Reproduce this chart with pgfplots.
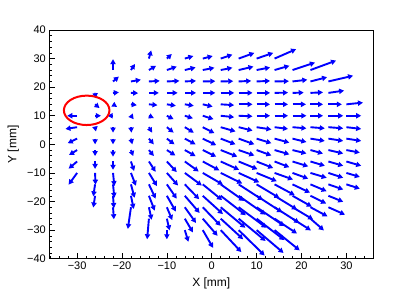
\documentclass[border=0pt]{standalone}
\usepackage{fontspec}
\setmainfont{Liberation Sans}
\usepackage{pgfplots}
\usepackage{pgfplotstable}
\pgfplotsset{compat=1.18}
\usetikzlibrary{arrows.meta}
\pgfplotstableread{
x y u v
-14 30 0.5 2.9
-10 30 1.1 1.6
-6 30 1.9 0.9
-2 30 2.2 0.9
2 30 2.6 1.4
6 30 3.5 2.0
10 30 3.7 2.0
14 30 4.8 3.3
-22 26 0 3.8
-18 26 0.9 2.1
-14 26 1.6 1.5
-10 26 2.2 1.2
-6 26 2.4 0.9
-2 26 2.6 0.8
2 26 2.6 0.8
6 26 3.3 1.2
10 26 3.0 0.9
14 26 3.3 1.5
18 26 5.0 2.6
22 26 5.7 3.3
-22 22 1.3 1.7
-18 22 2.2 0.6
-14 22 2.4 0.2
-10 22 2.8 0.2
-6 22 2.5 0.2
-2 22 2.8 0.1
2 22 2.8 0.1
6 22 2.8 0.2
10 22 3.0 0.2
14 22 3.2 0.1
18 22 3.3 0.6
22 22 3.7 1.5
26 22 5.5 2.0
-26 18 0.1 -1.9
-22 18 1.3 0.2
-18 18 1.6 -0.1
-14 18 2.2 0
-10 18 2.4 0
-6 18 2.5 0
-2 18 2.8 0
2 18 3.0 0
6 18 3.1 0
10 18 3.0 0
14 18 3.0 0.1
18 18 2.5 0.1
22 18 2.8 0.2
26 18 3.5 0.8
-26 14 1.0 -1.3
-22 14 0.9 -0.9
-18 14 1.3 -0.3
-14 14 1.9 -0.3
-10 14 2.0 -0.5
-6 14 2.0 -0.5
-2 14 2.2 -0.8
2 14 3.0 -0.3
6 14 3.1 0
10 14 3.0 0
14 14 3.0 0
18 14 3.0 0
22 14 2.8 0
26 14 3.0 0
30 14 3.7 0.6
-30 10 -2.2 0
-26 10 1.3 0
-22 10 -1.2 0
-18 10 0.6 -1.2
-14 10 1.1 -0.8
-10 10 1.5 -1.2
-6 10 1.8 -0.9
-2 10 2.4 -1.2
2 10 3.0 -0.5
6 10 3.1 -0.2
10 10 3.0 0
14 10 3.0 0
18 10 3.1 0
22 10 2.8 0
26 10 3.3 0
30 10 3.3 0
-30 6 -2.6 -0.6
-26 6 0.2 -1.5
-22 6 0 -1.9
-18 6 0.1 -1.9
-14 6 0.7 -1.9
-10 6 1.5 -1.9
-6 6 2.0 -1.9
-2 6 2.6 -2.1
2 6 3.3 -1.5
6 6 3.1 -1.2
10 6 3.3 -0.8
14 6 3.0 -0.6
18 6 3.1 -0.4
22 6 3.2 -0.4
26 6 3.3 -0.4
30 6 3.3 -0.6
-30 2 -2.1 -1.6
-26 2 0 -2.0
-22 2 0 -2.0
-18 2 0.3 -2.0
-14 2 1.1 -2.0
-10 2 1.7 -2.0
-6 2 2.4 -2.0
-2 2 3.0 -2.3
2 2 3.3 -2.0
6 2 3.5 -2.0
10 2 3.3 -1.6
14 2 3.3 -1.4
18 2 3.1 -1.2
22 2 3.2 -0.8
26 2 3.3 -0.8
30 2 3.3 -0.8
-30 -2 -1.8 -1.7
-26 -2 0 -2.1
-22 -2 0 -2.3
-18 -2 0.5 -2.1
-14 -2 1.1 -2.1
-10 -2 1.9 -1.9
-6 -2 2.4 -2.1
-2 -2 3.0 -2.3
2 -2 3.7 -2.3
6 -2 3.5 -1.9
10 -2 3.3 -1.9
14 -2 3.3 -1.5
18 -2 3.1 -1.2
22 -2 2.8 -1.2
26 -2 3.3 -1.2
30 -2 3.0 -0.9
-30 -6 -1.9 -2.5
-26 -6 0 -2.6
-22 -6 0 -2.9
-18 -6 0.7 -3.3
-14 -6 1.5 -3.6
-10 -6 2.2 -3.7
-6 -6 3.1 -3.5
-2 -6 3.7 -3.1
2 -6 4.1 -2.9
6 -6 4.2 -2.7
10 -6 3.7 -2.3
14 -6 3.3 -2.0
18 -6 3.5 -1.7
22 -6 3.2 -1.5
26 -6 3.3 -1.5
30 -6 3.3 -1.5
-30 -10 -1.9 -4.1
-26 -10 0.1 -4.1
-22 -10 0.3 -4.6
-18 -10 1.1 -4.5
-14 -10 1.8 -4.6
-10 -10 2.5 -4.4
-6 -10 3.8 -4.4
-2 -10 4.5 -4.1
2 -10 4.8 -3.7
6 -10 4.6 -3.3
10 -10 4.5 -2.9
14 -10 4.1 -2.3
18 -10 3.5 -2.0
22 -10 3.6 -1.7
26 -10 3.3 -1.7
30 -10 3.0 -1.4
-26 -14 -0.4 -4.2
-22 -14 0.3 -4.7
-18 -14 0.8 -4.7
-14 -14 1.5 -5.0
-10 -14 2.2 -5.0
-6 -14 3.2 -5.2
-2 -14 4.3 -5.5
2 -14 5.2 -5.8
6 -14 5.4 -5.5
10 -14 5.1 -4.8
14 -14 4.5 -3.8
18 -14 3.9 -2.9
22 -14 3.6 -2.4
26 -14 3.3 -1.8
30 -14 3.0 -1.5
-26 -18 -0.4 -4.1
-22 -18 0.2 -4.3
-18 -18 0.6 -4.6
-14 -18 1.3 -5.2
-10 -18 2.0 -5.5
-6 -18 3.3 -6.0
-2 -18 4.5 -6.4
2 -18 5.6 -6.8
6 -18 6.0 -6.6
10 -18 5.7 -5.8
14 -18 5.0 -4.8
18 -18 4.3 -3.8
22 -18 3.5 -2.7
26 -18 3.3 -2.1
-22 -22 0.2 -4.2
-18 -22 -0.7 -7.6
-14 -22 0.6 -4.4
-10 -22 1.2 -4.5
-6 -22 2.5 -5.5
-2 -22 4.0 -6.5
2 -22 5.5 -7.2
6 -22 6.2 -7.2
10 -22 6.2 -6.6
14 -22 5.5 -5.5
18 -22 4.6 -4.3
22 -22 3.8 -3.2
26 -22 3.7 -2.6
-14 -26 -0.4 -7.2
-10 -26 0.6 -4.1
-6 -26 1.8 -4.8
-2 -26 3.3 -6.0
2 -26 5.0 -7.2
6 -26 6.0 -7.8
10 -26 6.2 -7.5
14 -26 5.0 -5.2
18 -26 4.1 -4.1
22 -26 3.0 -4.1
-10 -30 0 -3.2
-6 -30 0.8 -4.1
-2 -30 2.3 -6.2
2 -30 4.6 -7.7
6 -30 5.8 -8.9
10 -30 6.0 -8.0
14 -30 5.6 -7.1
}\field
\begin{document}
\begin{tikzpicture}
\path[use as bounding box] (0,0) rectangle (407pt,294pt);
\begin{axis}[
  at={(49.3pt,35.3pt)}, anchor=south west,
  scale only axis, width=324pt, height=228.7pt,
  xmin=-36.2, xmax=36, ymin=-40, ymax=40,
  xtick={-30,-20,...,30}, xticklabels={−30,−20,−10,0,10,20,30},
  ytick={-40,-30,...,40}, yticklabels={−40,−30,−20,−10,0,10,20,30,40},
  minor xtick={-36,-34,...,36}, minor ytick={-40,-38,...,40},
  tick align=inside, xtick pos=left, ytick pos=left,
  major tick length=5.5pt, minor tick length=2.8pt,
  tick style={black, line width=0.6pt},
  axis line style={line width=0.6pt},
  ticklabel style={font=\fontsize{11}{13}\selectfont},
  xlabel={X [mm]}, ylabel={Y [mm]},
  label style={font=\fontsize{12}{14}\selectfont},
  xlabel style={at={(axis description cs:0.5,-0.1076)}, anchor=center},
  ylabel style={at={(axis description cs:-0.111,0.5)}, anchor=center},
]
\addplot[blue, line width=1.9pt, -{Triangle[length=5pt,width=5.2pt]},
  quiver={u=\thisrow{u}, v=\thisrow{v}}] table[x=x, y=y] {\field};
\draw[red, line width=2pt] (axis cs:-27.87,11.9) ellipse [x radius=22.8pt, y radius=14.7pt];
\end{axis}
\end{tikzpicture}
\end{document}
